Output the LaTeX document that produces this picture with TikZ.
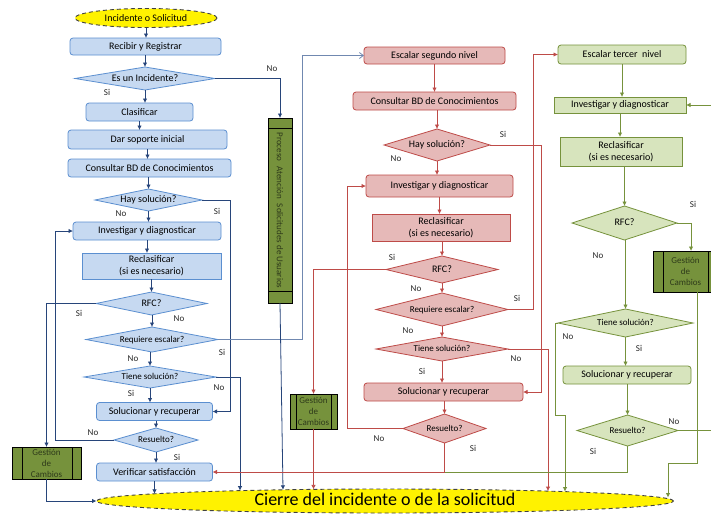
\documentclass[tikz,border=0pt]{standalone}
\usepackage{fontspec}
\setmainfont{Carlito}
\usetikzlibrary{shapes.geometric,arrows.meta}
\definecolor{bfill}{HTML}{C6D9F1}
\definecolor{bdraw}{HTML}{5B8FD0}
\definecolor{bline}{HTML}{27457A}
\definecolor{blight}{HTML}{7088B0}
\definecolor{rfill}{HTML}{E6B9B8}
\definecolor{rdraw}{HTML}{BE4B48}
\definecolor{gfill}{HTML}{D7E4BD}
\definecolor{gdraw}{HTML}{76923C}
\definecolor{gcfill}{HTML}{76923C}
\definecolor{gctext}{HTML}{2E3A1A}
\definecolor{ydraw}{HTML}{404040}
\newcommand{\fsBox}{\fontsize{10}{12}\selectfont}
\newcommand{\fsDia}{\fontsize{9}{10}\selectfont}
\newcommand{\fsLab}{\fontsize{9}{10}\selectfont}
\begin{document}
\begin{tikzpicture}[x=1pt,y=-1pt,
  every node/.style={inner sep=0pt, outer sep=0pt, font=\fsBox},
  box/.style={draw, rounded corners=3pt, line width=0.8pt, align=center},
  sq/.style={draw, line width=0.8pt, align=center},
  dia/.style={draw, shape=diamond, line width=0.8pt, text height=6.5pt, text depth=1.5pt, font=\fsDia},
  bcol/.style={fill=bfill, draw=bdraw},
  rcol/.style={fill=rfill, draw=rdraw},
  gcol/.style={fill=gfill, draw=gdraw},
  gcbox/.style={draw=black, fill=gcfill, line width=0.8pt, align=center, text=gctext, font=\fontsize{9}{11}\selectfont},
  term/.style={ellipse, draw=ydraw, fill=yellow, dashed, dash pattern=on 4pt off 3pt, line width=0.9pt},
  lab/.style={font=\fsLab, text=black!85},
  tip/.style={-{Latex[length=4.5pt,width=4.5pt]}},
  bl/.style={draw=bline, line width=0.8pt, tip},
  rl/.style={draw=rdraw, line width=0.8pt, tip},
  gl/.style={draw=gdraw, line width=0.8pt, tip},
]
\useasboundingbox (0,0) rectangle (711,515);
\clip (0,0) rectangle (711,515);
\fill[white] (0,0) rectangle (711,515);

% ---------- first level (blue) ----------
\node[term, minimum width=142, minimum height=19] (ini) at (146,18) {Incidente o Solicitud};
\node[box,bcol,minimum width=151,minimum height=17] (rr) at (145.5,46.5) {Recibir y Registrar};
\node[dia,bcol,font=\fsBox,minimum width=140,minimum height=23,shape aspect=6.09] (inc) at (145,78.5) {Es un Incidente?};
\node[box,bcol,minimum width=107,minimum height=18] (cla) at (139.5,112) {Clasificar};
\node[box,bcol,minimum width=159,minimum height=19] (dar) at (147.5,139.5) {Dar soporte inicial};
\node[box,bcol,minimum width=163,minimum height=18] (con1) at (149.5,168) {Consultar BD de Conocimientos};
\node[dia,bcol,font=\fsBox,minimum width=107,minimum height=22,shape aspect=4.86] (hay1) at (148.5,200) {Hay solución?};
\node[box,bcol,minimum width=148,minimum height=18] (inv1) at (147,231) {Investigar y diagnosticar};
\node[sq,bcol,minimum width=139,minimum height=26] (rec1) at (151.5,266) {Reclasificar\\(si es necesario)};
\node[dia,bcol,font=\fsBox,minimum width=111,minimum height=23,shape aspect=4.83] (rfc1) at (151.5,303.5) {RFC?};
\node[dia,bcol,minimum width=132,minimum height=25,shape aspect=5.28] (req1) at (152,339.5) {Requiere escalar?};
\node[dia,bcol,minimum width=132,minimum height=22,shape aspect=6] (tie1) at (150,377) {Tiene solución?};
\node[box,bcol,minimum width=116,minimum height=18] (sol1) at (154.5,411.5) {Solucionar y recuperar};
\node[dia,bcol,minimum width=84,minimum height=24,shape aspect=3.5] (res1) at (156,440) {Resuelto?};
\node[box,bcol,minimum width=116,minimum height=18] (ver) at (154.5,472) {Verificar satisfacción};
\node[gcbox,minimum width=69,minimum height=32] (gc1) at (46.5,463) {Gestión\\de\\Cambios};
\draw[line width=0.8pt] ([xshift=10pt]gc1.north west) -- ([xshift=10pt]gc1.south west)
  ([xshift=-9pt]gc1.north east) -- ([xshift=-9pt]gc1.south east);

\node[draw=black, fill=gcfill, line width=0.8pt, minimum width=24, minimum height=185] (proc) at (280,210.5) {};
\draw[line width=0.8pt] ([yshift=-10pt]proc.north west) -- ([yshift=-10pt]proc.north east)
  ([yshift=12pt]proc.south west) -- ([yshift=12pt]proc.south east);
\node[rotate=-90, text=gctext, font=\fontsize{9}{10}\selectfont] (proct) at (280,210.5)
  {Proceso\hspace{5pt}Atención\hspace{5pt}Solicitudes de Usuarios};

% ---------- second level (red) ----------
\node[box,rcol,minimum width=141,minimum height=17] (esc2) at (434.5,55.5) {Escalar segundo nivel};
\node[box,rcol,minimum width=163,minimum height=18] (con2) at (434.5,101) {Consultar BD de Conocimientos};
\node[dia,rcol,font=\fsBox,minimum width=106,minimum height=32,shape aspect=3.31] (hay2) at (437,145) {Hay solución?};
\node[box,rcol,minimum width=147,minimum height=22] (inv2) at (439.5,186) {Investigar y diagnosticar};
\node[sq,rcol,minimum width=138,minimum height=27] (rec2) at (441,227.5) {Reclasificar\\(si es necesario)};
\node[dia,rcol,font=\fsBox,minimum width=112,minimum height=27,shape aspect=4.15] (rfc2) at (442,269.5) {RFC?};
\node[dia,rcol,minimum width=132,minimum height=33,shape aspect=4] (req2) at (442,309.5) {Requiere escalar?};
\node[dia,rcol,minimum width=132,minimum height=24,shape aspect=5.5] (tie2) at (442,349) {Tiene solución?};
\node[box,rcol,minimum width=159,minimum height=18] (sol2) at (443.5,392) {Solucionar y recuperar};
\node[dia,rcol,minimum width=83,minimum height=29,shape aspect=2.86] (res2) at (444.5,428.5) {Resuelto?};
\node[gcbox,minimum width=47,minimum height=35] (gc2) at (313.5,411.5) {Gestión\\de\\Cambios};
\draw[line width=0.8pt] ([xshift=6pt]gc2.north west) -- ([xshift=6pt]gc2.south west)
  ([xshift=-6pt]gc2.north east) -- ([xshift=-6pt]gc2.south east);

% ---------- third level (green) ----------
\node[box,gcol,minimum width=128,minimum height=19] (esc3) at (622,54.5) {Escalar tercer\ \ nivel};
\node[sq,gcol,minimum width=132,minimum height=16] (inv3) at (620,105) {Investigar y diagnosticar};
\node[sq,gcol,minimum width=122,minimum height=29] (rec3) at (621,151.5) {Reclasificar\\(si es necesario)};
\node[dia,gcol,font=\fsBox,minimum width=105,minimum height=34,shape aspect=3.09] (rfc3) at (624.5,223) {RFC?};
\node[gcbox,minimum width=65,minimum height=41] (gc3) at (685.5,271.5) {Gestión\\de\\Cambios};
\draw[line width=0.8pt] ([xshift=10pt]gc3.north west) -- ([xshift=10pt]gc3.south west)
  ([xshift=-10pt]gc3.north east) -- ([xshift=-10pt]gc3.south east);
\node[dia,gcol,minimum width=135,minimum height=28,shape aspect=4.82] (tie3) at (625.5,323) {Tiene solución?};
\node[box,gcol,minimum width=128,minimum height=18] (sol3) at (627,375) {Solucionar y recuperar};
\node[dia,gcol,minimum width=101,minimum height=31,shape aspect=3.26] (res3) at (627.5,430.5) {Resuelto?};

% ---------- closing terminal ----------
\node[term, minimum width=577, minimum height=24, text height=12pt, text depth=3pt,
  font=\fontsize{18}{20}\selectfont] (cie) at (385,501) {Cierre del incidente o de la solicitud};

% end points on the closing ellipse and bend points
\coordinate (e154) at (154.5,493.8);
\coordinate (e240) at (240,490.6);
\coordinate (e283) at (283,489.8);
\coordinate (e313) at (313.5,489.4);
\coordinate (e548) at (548,491.1);
\coordinate (e565) at (565,491.6);
\coordinate (e668) at (668,497.5);
\coordinate (b55) at (55,0);
\coordinate (b230) at (230,0);
\coordinate (b240) at (240,0);
\coordinate (b302) at (302,0);
\coordinate (r347) at (347,0);
\coordinate (r533) at (533,0);
\coordinate (r541) at (541,0);
\coordinate (r548) at (548,0);
\coordinate (g691) at (691,0);
\coordinate (g3a) at (697,463);
\coordinate (g3b) at (668,463);
\coordinate (g555a) at (555,415);
\coordinate (g555b) at (565,415);
\coordinate (g716) at (716,0);

% ---------- blue connectors ----------
\foreach \a/\b in {ini/rr, inc/cla, cla/dar, dar/con1, hay1/inv1, inv1/rec1, tie1/sol1, res1/ver}
  \draw[bl] (\a.south) -- (\a.south |- \b.north);
\foreach \a/\b in {rr/inc, con1/hay1, rec1/rfc1, rfc1/req1, req1/tie1, sol1/res1}
  \draw[bl] (\b.north |- \a.south) -- (\b.north);
\draw[bl] (inc.east) -| (proc.north);
\draw[bl] (hay1.east) -- (hay1.east -| b230) -- (sol1.east -| b230) -- (sol1.east);
\draw[bl] (rfc1.west) -| (gc1.north);
\draw[draw=blight, line width=0.8pt, -{Straight Barb[length=4pt,width=6pt]}]
  (req1.east) -- (req1.east -| b302) -- (esc2.west -| b302) -- (esc2.west);
\draw[bl] (tie1.east) -- (tie1.east -| b240) -- (e240);
\draw[bl] (res1.west) -- (res1.west -| b55) -- (inv1.west -| b55) -- (inv1.west);
\draw[bl] (ver.south) -- (e154);
\draw[bl] (gc1.south) |- (cie.west);
\draw[bl] (proc.south) -- (e283);

% ---------- red connectors ----------
\foreach \a/\b in {esc2/con2, hay2/inv2, inv2/rec2, tie2/sol2}
  \draw[rl] (\a.south) -- (\a.south |- \b.north);
\foreach \a/\b in {con2/hay2, rec2/rfc2, rfc2/req2, req2/tie2, sol2/res2}
  \draw[rl] (\b.north |- \a.south) -- (\b.north);
\draw[rl] (hay2.east) -- (hay2.east -| r541) -- (sol2.east -| r541) -- (sol2.east);
\draw[rl] (req2.east) -- (req2.east -| r533) -- (esc3.west -| r533) -- (esc3.west);
\draw[rl] (tie2.east) -- (tie2.east -| r548) -- (e548);
\draw[rl] (res2.west) -- (res2.west -| r347) -- (inv2.west -| r347) -- (inv2.west);
\draw[rl] (rfc2.west) -| (gc2.north);
\draw[rl] (gc2.south) -- (e313);
\coordinate (jn) at (res2.south |- ver.east);
\draw[rl] (res2.south) -- (jn) -- (ver.east);

% ---------- green connectors ----------
\foreach \a/\b in {esc3/inv3, inv3/rec3, tie3/sol3}
  \draw[gl] (\a.south) -- (\a.south |- \b.north);
\foreach \a/\b in {rec3/rfc3, rfc3/tie3, sol3/res3}
  \draw[gl] (\b.north |- \a.south) -- (\b.north);
\draw[gl] (rfc3.east) -- (rfc3.east -| g691) -- (gc3.north -| g691);
\draw[gl] (gc3.south -| g3a) -- (g3a) -- (g3b) -- (e668);
\draw[gl] (tie3.west) -- (tie3.west -| g555a) -- (g555a) -- (g555b) -- (e565);
\draw[gl] (res3.east) -- (res3.east -| g716) -- (inv3.east -| g716) -- (inv3.east);
\draw[draw=gdraw, line width=0.8pt] (res3.south) |- (jn);

% ---------- branch labels ----------
\node[lab] (l01) at (107,92) {Si};
\node[lab] (l02) at (272,69) {No};
\node[lab] (l03) at (121,214) {No};
\node[lab] (l04) at (217,211) {Si};
\node[lab] (l05) at (79,313) {Si};
\node[lab] (l06) at (179,319) {No};
\node[lab] (l07) at (222,352) {Si};
\node[lab] (l08) at (133,359) {No};
\node[lab] (l09) at (131,393) {Si};
\node[lab] (l10) at (219,388) {No};
\node[lab] (l11) at (93,433) {No};
\node[lab] (l12) at (177,457) {Si};

\node[lab] (l13) at (503,134) {Si};
\node[lab] (l14) at (396,159) {No};
\node[lab] (l15) at (392,257) {Si};
\node[lab] (l16) at (416,289) {No};
\node[lab] (l17) at (517,298) {Si};
\node[lab] (l18) at (408,331) {No};
\node[lab] (l19) at (422,371) {Si};
\node[lab] (l20) at (516,359) {No};
\node[lab] (l21) at (379,439) {No};
\node[lab] (l22) at (473,448) {Si};

\node[lab] (l23) at (693,204) {Si};
\node[lab] (l24) at (598,256) {No};
\node[lab] (l25) at (568,337) {No};
\node[lab] (l26) at (639,348) {Si};
\node[lab] (l27) at (674,422) {No};
\node[lab] (l28) at (593,451) {Si};
\end{tikzpicture}
\end{document}
